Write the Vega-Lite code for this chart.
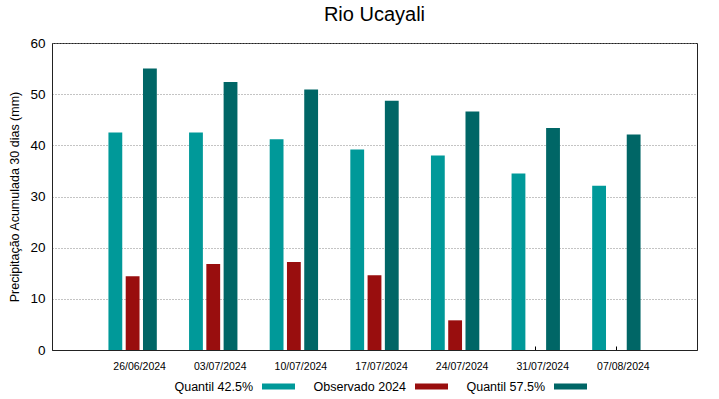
{
  "$schema": "https://vega.github.io/schema/vega-lite/v6.json",
  "autosize": {"type": "none"},
  "padding": {"left": 52, "top": 43, "right": 22, "bottom": 49},
  "width": 645,
  "height": 307,
  "background": "white",
  "title": {"text": "Rio Ucayali", "fontSize": 20, "font": "Liberation Sans", "fontWeight": "normal", "color": "#000", "offset": 11},
  "config": {
    "font": "Liberation Sans",
    "view": {"stroke": "#222", "strokeWidth": 1}
  },
  "data": {"values": [
    {"date": "26/06/2024", "serie": "Quantil 42.5%", "value": 42.5},
    {"date": "26/06/2024", "serie": "Observado 2024", "value": 14.4},
    {"date": "26/06/2024", "serie": "Quantil 57.5%", "value": 55.0},
    {"date": "03/07/2024", "serie": "Quantil 42.5%", "value": 42.5},
    {"date": "03/07/2024", "serie": "Observado 2024", "value": 16.8},
    {"date": "03/07/2024", "serie": "Quantil 57.5%", "value": 52.4},
    {"date": "10/07/2024", "serie": "Quantil 42.5%", "value": 41.2},
    {"date": "10/07/2024", "serie": "Observado 2024", "value": 17.2},
    {"date": "10/07/2024", "serie": "Quantil 57.5%", "value": 50.9},
    {"date": "17/07/2024", "serie": "Quantil 42.5%", "value": 39.2},
    {"date": "17/07/2024", "serie": "Observado 2024", "value": 14.6},
    {"date": "17/07/2024", "serie": "Quantil 57.5%", "value": 48.7},
    {"date": "24/07/2024", "serie": "Quantil 42.5%", "value": 38.0},
    {"date": "24/07/2024", "serie": "Observado 2024", "value": 5.8},
    {"date": "24/07/2024", "serie": "Quantil 57.5%", "value": 46.6},
    {"date": "31/07/2024", "serie": "Quantil 42.5%", "value": 34.5},
    {"date": "31/07/2024", "serie": "Quantil 57.5%", "value": 43.4},
    {"date": "07/08/2024", "serie": "Quantil 42.5%", "value": 32.1},
    {"date": "07/08/2024", "serie": "Quantil 57.5%", "value": 42.1}
  ]},
  "mark": {"type": "bar"},
  "encoding": {
    "x": {
      "field": "date", "type": "nominal", "sort": null,
      "scale": {"paddingInner": 0.4, "paddingOuter": 0.7},
      "axis": {"title": null, "labelAngle": 0, "labelFontSize": 10.5, "labelColor": "#000", "tickSize": -4, "tickColor": "#000", "labelPadding": 15, "labelOffset": 7, "domainColor": "#222", "grid": false}
    },
    "xOffset": {
      "field": "serie", "type": "nominal",
      "sort": ["Quantil 42.5%", "Observado 2024", "Quantil 57.5%"],
      "scale": {"paddingInner": 0.2, "paddingOuter": 0}
    },
    "y": {
      "field": "value", "type": "quantitative",
      "scale": {"domain": [0, 60], "nice": false},
      "axis": {"title": "Precipitação Acumulada 30 dias (mm)", "titleFontSize": 12.5, "titleFontWeight": "normal", "titleColor": "#000", "titlePadding": 8, "values": [0, 10, 20, 30, 40, 50, 60], "labelFontSize": 13.5, "labelColor": "#000", "ticks": false, "labelPadding": 7, "grid": true, "gridDash": [1, 2], "gridColor": "#888", "domainColor": "#222"}
    },
    "color": {
      "field": "serie", "type": "nominal",
      "scale": {"domain": ["Quantil 42.5%", "Observado 2024", "Quantil 57.5%"], "range": ["#009999", "#990e0e", "#006666"]},
      "legend": {
        "title": null, "orient": "none", "direction": "horizontal", "legendX": 210, "legendY": 327,
        "symbolType": "M-1,-0.18L1,-0.18L1,0.18L-1,0.18Z", "symbolSize": 1089, "symbolStrokeWidth": 0,
        "labelFontSize": 12.5, "labelColor": "#000", "labelAlign": "right", "labelOffset": -42,
        "columnPadding": 18, "symbolOffset": 0
      }
    }
  }
}
